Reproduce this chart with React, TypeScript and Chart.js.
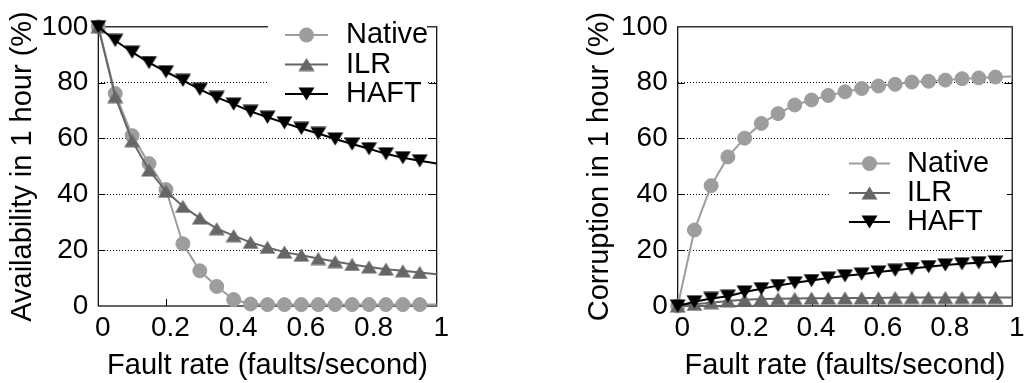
import React, { useEffect, useRef } from 'react';
import { Chart, registerables } from 'chart.js';

Chart.register(...registerables);

// ---------- data ----------
const faultRates = [0, 0.05, 0.1, 0.15, 0.2, 0.25, 0.3, 0.35, 0.4, 0.45, 0.5, 0.55, 0.6, 0.65, 0.7, 0.75, 0.8, 0.85, 0.9, 0.95, 1];

const availabilityNative = [100, 76.1, 61, 51, 41.7, 22.3, 12.6, 7, 2.3, 0.7, 0.5, 0.5, 0.5, 0.5, 0.5, 0.5, 0.5, 0.5, 0.5, 0.5, 0.5];
const availabilityILR = [100, 75, 59.2, 48.7, 41.1, 35.7, 31.5, 27.7, 25.2, 22.8, 21, 19.3, 18.2, 17, 15.9, 14.9, 14, 13.2, 12.6, 12, 11.4];
const availabilityHAFT = [100, 95.1, 90.9, 87.2, 83.9, 80.8, 77.6, 74.7, 72.3, 69.7, 67.6, 65.6, 63.6, 61.8, 59.8, 58, 56.3, 54.5, 53.1, 52, 51];

const corruptionNative = [0, 27.2, 43.1, 53.4, 60.1, 65.4, 68.9, 72, 73.8, 75.4, 76.7, 77.9, 78.8, 79.4, 80.2, 80.5, 80.9, 81.4, 81.7, 82, 82.2];
const corruptionILR = [0, 0.6, 1.2, 1.8, 2.2, 2.5, 2.6, 2.7, 2.8, 2.8, 2.9, 2.9, 2.9, 3, 3, 3, 3, 3, 3, 3, 3];
const corruptionHAFT = [0, 1.5, 2.7, 3.5, 5, 6.2, 7.3, 8.3, 9.1, 10, 10.8, 11.4, 12.2, 12.8, 13.4, 14.1, 14.7, 15.1, 15.5, 15.8, 16.3];

const seriesNames = ['Native', 'ILR', 'HAFT'];
const xTickValues = [0, 0.2, 0.4, 0.6, 0.8, 1];
const xTickLabels = ['0', '0.2', '0.4', '0.6', '0.8', '1'];
const yTickLabels = ['0', '20', '40', '60', '80', '100'];
const xAxisTitle = 'Fault rate (faults/second)';
const availabilityTitle = 'Availability in 1 hour (%)';
const corruptionTitle = 'Corruption in 1 hour (%)';

// ---------- styles ----------
const FONT = "'Liberation Sans', Arial, Helvetica, sans-serif";
const NATIVE_COLOR = '#9d9d9d';
const ILR_COLOR = '#666666';
const HAFT_COLOR = '#000000';

function makeTriangle(color: string, down: boolean): HTMLCanvasElement {
  const w = 17;
  const h = 14;
  const c = document.createElement('canvas');
  c.width = w;
  c.height = h;
  const g = c.getContext('2d') as CanvasRenderingContext2D;
  g.fillStyle = color;
  g.beginPath();
  if (down) {
    g.moveTo(0.5, 0.5);
    g.lineTo(w - 0.5, 0.5);
    g.lineTo(w / 2, h - 0.5);
  } else {
    g.moveTo(w / 2, 0.5);
    g.lineTo(w - 0.5, h - 0.5);
    g.lineTo(0.5, h - 0.5);
  }
  g.closePath();
  g.fill();
  return c;
}

type LegendSpec = {
  box: [number, number, number, number];
  lineX0: number;
  lineX1: number;
  textX: number;
  rows: number[];
};

type PanelSpec = {
  canvasLeft: number;
  canvasWidth: number;
  areaLeft: number;
  areaRight: number;
  areaTop: number;
  areaBottom: number;
  yTitle: string;
  yTitleX: number;
  yTitleY: number;
  legend: LegendSpec;
  native: number[];
  ilr: number[];
  haft: number[];
};

const panels: PanelSpec[] = [
  {
    canvasLeft: 0,
    canvasWidth: 512,
    areaLeft: 98.3,
    areaRight: 436.7,
    areaTop: 20,
    areaBottom: 306,
    yTitle: availabilityTitle,
    yTitleX: 23,
    yTitleY: 166.5,
    legend: { box: [268, 21, 427, 110], lineX0: 285, lineX1: 328, textX: 346, rows: [35, 64.5, 94] },
    native: availabilityNative,
    ilr: availabilityILR,
    haft: availabilityHAFT,
  },
  {
    canvasLeft: 512,
    canvasWidth: 513,
    areaLeft: 165.7,
    areaRight: 503.3,
    areaTop: 20,
    areaBottom: 306,
    yTitle: corruptionTitle,
    yTitleX: 88,
    yTitleY: 166.5,
    legend: { box: [319, 150, 495, 238], lineX0: 337, lineX1: 378, textX: 395, rows: [163.5, 193, 222] },
    native: corruptionNative,
    ilr: corruptionILR,
    haft: corruptionHAFT,
  },
];

function Panel({ spec }: { spec: PanelSpec }) {
  const ref = useRef<HTMLCanvasElement | null>(null);

  useEffect(() => {
    const canvas = ref.current;
    if (!canvas) return;
    const upTri = makeTriangle(ILR_COLOR, false);
    const downTri = makeTriangle(HAFT_COLOR, true);
    const last = faultRates.length - 1;

    const series = [
      { name: seriesNames[0], values: spec.native, color: NATIVE_COLOR, style: 'circle' as any, order: 2 },
      { name: seriesNames[1], values: spec.ilr, color: ILR_COLOR, style: upTri as any, order: 1 },
      { name: seriesNames[2], values: spec.haft, color: HAFT_COLOR, style: downTri as any, order: 0 },
    ];

    const datasets = series.map((s) => ({
      label: s.name,
      data: faultRates.map((x, i) => ({ x, y: s.values[i] })),
      borderColor: s.color,
      backgroundColor: s.color,
      borderWidth: 2,
      pointStyle: s.style,
      pointRadius: (c: any) => (c.dataIndex === last ? 0 : 7),
      pointBorderWidth: 1,
      pointBorderColor: s.color,
      pointBackgroundColor: s.color,
      tension: 0,
      clip: false as any,
      order: s.order,
    }));

    const framePlugin = {
      id: 'frame',
      beforeDatasetsDraw(chart: any) {
        const { ctx, chartArea: a, scales } = chart;
        ctx.save();
        ctx.strokeStyle = '#000';
        ctx.lineWidth = 1.2;
        ctx.setLineDash([]);
        ctx.strokeRect(a.left, a.top, a.right - a.left, a.bottom - a.top);
        ctx.lineWidth = 1;
        ctx.beginPath();
        [20, 40, 60, 80].forEach((v) => {
          const y = Math.round(scales.y.getPixelForValue(v)) + 0.5;
          ctx.moveTo(a.left, y);
          ctx.lineTo(a.left + 7, y);
          ctx.moveTo(a.right - 8, y);
          ctx.lineTo(a.right, y);
        });
        [0.2, 0.4, 0.6, 0.8].forEach((v) => {
          const x = Math.round(scales.x.getPixelForValue(v)) + 0.5;
          ctx.moveTo(x, a.bottom);
          ctx.lineTo(x, a.bottom - 7);
        });
        ctx.stroke();
        ctx.restore();
      },
    };

    const legendPlugin = {
      id: 'customLegend',
      afterDatasetsDraw(chart: any) {
        const { ctx } = chart;
        const L = spec.legend;
        ctx.save();
        ctx.fillStyle = '#ffffff';
        ctx.fillRect(L.box[0], L.box[1], L.box[2] - L.box[0], L.box[3] - L.box[1]);
        series.forEach((s, i) => {
          const y = L.rows[i];
          ctx.strokeStyle = s.color;
          ctx.lineWidth = 2;
          ctx.beginPath();
          ctx.moveTo(L.lineX0, y);
          ctx.lineTo(L.lineX1, y);
          ctx.stroke();
          const mx = (L.lineX0 + L.lineX1) / 2;
          if (s.style === 'circle') {
            ctx.fillStyle = s.color;
            ctx.beginPath();
            ctx.arc(mx, y, 7.5, 0, Math.PI * 2);
            ctx.fill();
          } else {
            const img = s.style as HTMLCanvasElement;
            ctx.drawImage(img, mx - img.width / 2, y - img.height / 2);
          }
          ctx.fillStyle = '#000';
          ctx.font = `29px ${FONT}`;
          ctx.textAlign = 'left';
          ctx.textBaseline = 'middle';
          ctx.fillText(s.name, L.textX, y);
        });
        ctx.restore();
      },
    };

    const yTitlePlugin = {
      id: 'yTitle',
      afterDraw(chart: any) {
        const { ctx } = chart;
        ctx.save();
        ctx.translate(spec.yTitleX, spec.yTitleY);
        ctx.rotate(-Math.PI / 2);
        ctx.fillStyle = '#000';
        ctx.font = `29px ${FONT}`;
        ctx.textAlign = 'center';
        ctx.textBaseline = 'middle';
        ctx.fillText(spec.yTitle, 0, 0);
        ctx.restore();
      },
    };

    const chart = new Chart(canvas, {
      type: 'line',
      data: { datasets: datasets as any },
      options: {
        animation: false,
        responsive: false,
        devicePixelRatio: 1,
        layout: {
          padding: {
            left: 0,
            top: spec.areaTop,
            right: spec.canvasWidth - spec.areaRight,
            bottom: 0,
          },
        },
        plugins: {
          legend: { display: false },
          tooltip: { enabled: false },
          title: { display: false },
        },
        scales: {
          x: {
            type: 'linear',
            min: 0,
            max: 1,
            afterFit: (s: any) => {
              s.height = 383 - spec.areaBottom;
            },
            afterBuildTicks: (s: any) => {
              s.ticks = xTickValues.map((v) => ({ value: v }));
            },
            ticks: {
              autoSkip: false,
              maxRotation: 0,
              padding: 5,
              labelOffset: 4.5,
              color: '#000',
              font: { family: FONT, size: 28 },
              callback: (_v: any, i: number) => xTickLabels[i],
            },
            grid: { display: false, drawTicks: false },
            border: { display: false },
            title: {
              display: true,
              text: xAxisTitle,
              color: '#000',
              font: { family: FONT, size: 29 },
              padding: { top: 0, bottom: 0 },
            },
          },
          y: {
            type: 'linear',
            min: 0,
            max: 100,
            afterFit: (s: any) => {
              s.width = spec.areaLeft;
            },
            ticks: {
              stepSize: 20,
              padding: 10,
              color: '#000',
              font: { family: FONT, size: 28 },
              callback: (_v: any, i: number) => yTickLabels[i],
            },
            grid: {
              drawTicks: false,
              lineWidth: 1,
              color: (c: any) =>
                c.tick && (c.tick.value === 0 || c.tick.value === 100) ? 'rgba(0,0,0,0)' : '#000',
            },
            border: { display: false, dash: [1, 2] },
          },
        },
      },
      plugins: [framePlugin, legendPlugin, yTitlePlugin],
    } as any);

    return () => chart.destroy();
  }, [spec]);

  return (
    <canvas
      ref={ref}
      width={spec.canvasWidth}
      height={383}
      style={{ position: 'absolute', left: spec.canvasLeft, top: 0, width: spec.canvasWidth, height: 383 }}
    />
  );
}

export default function App() {
  return (
    <div style={{ position: 'absolute', left: 0, top: 0, width: 1025, height: 383, background: '#fff', overflow: 'hidden' }}>
      {panels.map((p, i) => (
        <Panel key={i} spec={p} />
      ))}
    </div>
  );
}
